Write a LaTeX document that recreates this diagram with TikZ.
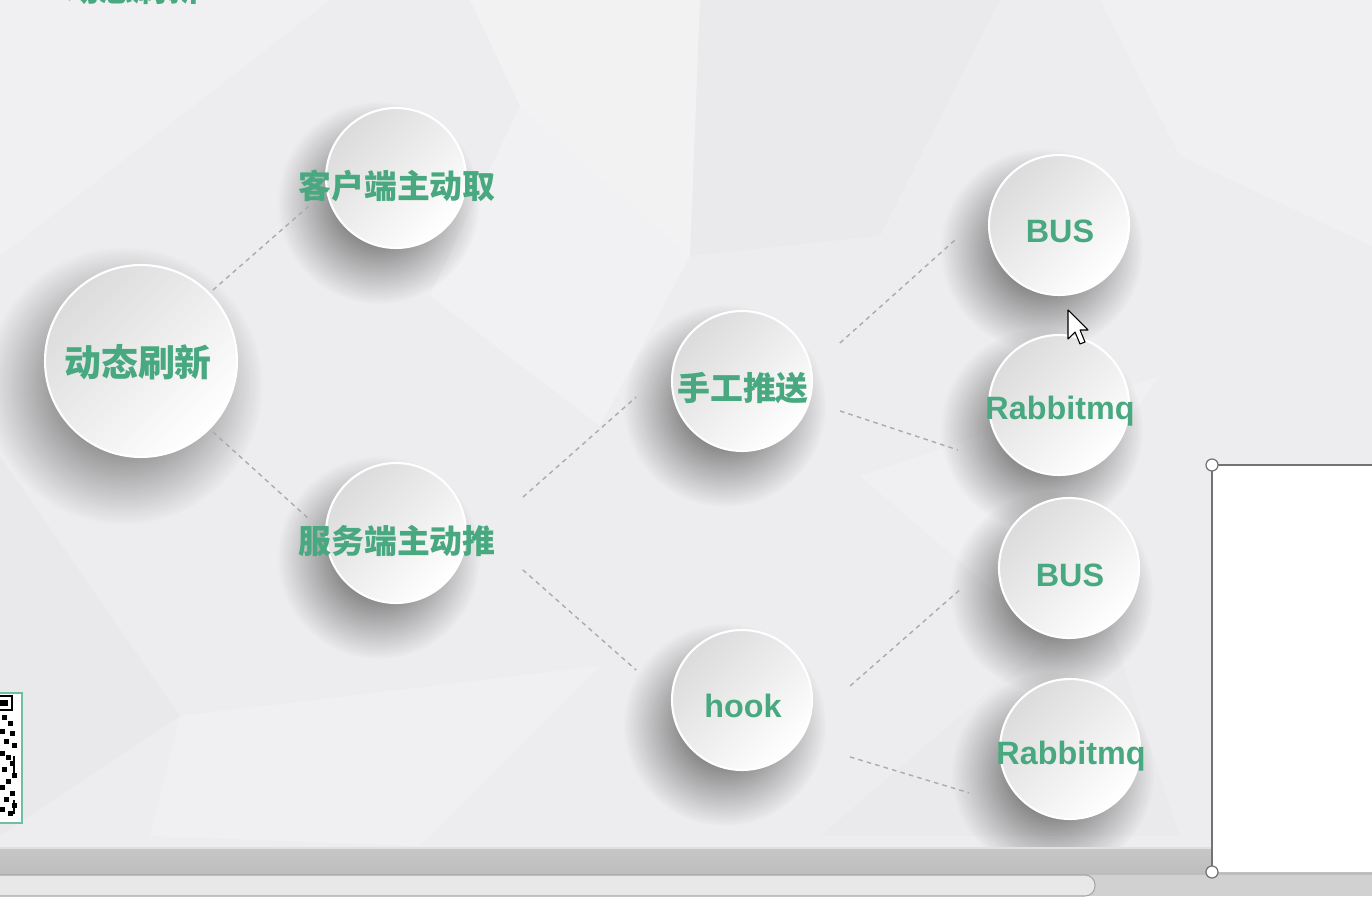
\documentclass[tikz,border=0pt]{standalone}
\usepackage{fontspec}
\setmainfont{Liberation Sans}
\newfontfamily\cjk{Noto Sans CJK SC}
\usetikzlibrary{shadows, fadings, calc}

\definecolor{leafgreen}{RGB}{72,168,128}
\definecolor{slidegray}{RGB}{237,237,239}
\definecolor{qrgreen}{RGB}{110,190,160}
\tikzfading[name=soft edge, inner color=transparent!0, outer color=transparent!100]

\begin{document}
\begin{tikzpicture}[x=0.02cm, y=0.02cm]
\tikzstyle{bubble} = [circle, inner sep=0pt, minimum size=2.8cm, draw=white, line width=1.2pt,
  top color=black!14, bottom color=white, shading angle=45,
  general shadow={fill=black, opacity=0.7, shadow scale=1.45, shadow xshift=-0.24cm, shadow yshift=-0.34cm, path fading=soft edge}]
\tikzstyle{caption} = [text=leafgreen, font=\bfseries\fontsize{18.4}{20}\selectfont, inner sep=0pt]
\tikzstyle{link} = [draw=black!33, line width=0.8pt, dash pattern=on 2.6pt off 2.4pt]
\tikzstyle{handle} = [circle, draw=black!55, fill=white, line width=0.7pt, inner sep=0pt, minimum size=0.24cm]

\useasboundingbox (0,0) rectangle (1372,896);

% slide background
\fill [slidegray] (0,0) rectangle (1372,896);
\fill [white, opacity=0.2] (0,896) -- (330,896) -- (0,640) -- cycle;
\fill [white, opacity=0.3] (470,896) -- (700,896) -- (690,640) -- (520,790) -- cycle;
\fill [white, opacity=0.25] (520,790) -- (690,640) -- (600,470) -- (430,600) -- cycle;
\fill [black, opacity=0.012] (700,896) -- (1000,896) -- (880,660) -- (690,640) -- cycle;
\fill [white, opacity=0.2] (1100,896) -- (1372,896) -- (1372,650) -- (1180,740) -- cycle;
\fill [black, opacity=0.015] (0,440) -- (180,180) -- (0,60) -- cycle;
\fill [white, opacity=0.2] (180,180) -- (600,230) -- (420,50) -- (150,60) -- cycle;
\fill [black, opacity=0.012] (820,60) -- (1100,300) -- (1180,60) -- cycle;
\fill [white, opacity=0.2] (860,420) -- (1160,520) -- (1000,300) -- cycle;

% cut-off title
\begin{scope}
\clip (0,0) rectangle (1372,896);
\node (title) [caption, anchor=base, font=\bfseries\fontsize{19}{20}\selectfont] at (133,894) {\cjk 动态刷新};
\end{scope}

% circles
\node (main) [bubble, minimum size=3.84cm] at (141,535) {};
\node (client) [bubble] at (396,718) {};
\node (server) [bubble] at (396,363) {};
\node (manual) [bubble] at (742,515) {};
\node (hook) [bubble] at (742,196) {};
\node (bus1) [bubble] at (1059,671) {};
\node (rabbit1) [bubble] at (1059,491) {};
\node (bus2) [bubble] at (1069,328) {};
\node (rabbit2) [bubble] at (1070,147) {};

% texts
\node (main-t) [caption, font=\bfseries\fontsize{21}{22}\selectfont] at (138,534) {\cjk 动态刷新};
\node (client-t) [caption, font=\bfseries\fontsize{18.7}{20}\selectfont] at (397,710) {\cjk 客户端主动取};
\node (server-t) [caption, font=\bfseries\fontsize{18.7}{20}\selectfont] at (397,355) {\cjk 服务端主动推};
\node (manual-t) [caption, font=\bfseries\fontsize{18.7}{20}\selectfont] at (743,508) {\cjk 手工推送};
\node (hook-t) [caption] at (743,190) {hook};
\node (bus1-t) [caption] at (1060,665) {BUS};
\node (rabbit1-t) [caption] at (1060,485) {Rabbitmq};
\node (bus2-t) [caption] at (1070,321) {BUS};
\node (rabbit2-t) [caption] at (1071,140) {Rabbitmq};

% dashed links
\draw [link] ($(main)+(44.6:101)$) -- ($(client)+(197.4:90)$);
\draw [link] ($(main)+(-44.6:101)$) -- ($(server)+(171.4:87)$);
\draw [link] ($(server)+(15.8:132)$) -- ($(manual)+(188.6:107)$);
\draw [link] ($(server)+(-16.2:132)$) -- ($(hook)+(164.2:110)$);
\draw [link] ($(manual)+(21.2:105)$) -- ($(bus1)+(188.2:105)$);
\draw [link] ($(manual)+(-17:102.5)$) -- ($(rabbit1)+(204:110.6)$);
\draw [link] ($(hook)+(7.4:109)$) -- ($(bus2)+(190.6:109)$);
\draw [link] ($(hook)+(-27.8:122)$) -- ($(rabbit2)+(203.5:110)$);

% qr code at the left edge
\filldraw [fill=white, draw=qrgreen, line width=0.8pt] (-10,73) rectangle (22,203);
\draw [black, line width=1.6pt] (-4,186) rectangle (12,200);
\fill [black] (0,190) rectangle (8,196);
\foreach \qx/\qy in {2/176, 8/170, 0/162, 10/160, 4/152, 12/148, 0/140, 6/136, 10/130, 2/124, 12/118, 6/112, 0/106, 10/100, 4/94, 12/88, 0/84, 8/80}
  \fill [black] (\qx,\qy) rectangle ++(5,5);
\draw [black, line width=0.9pt] (14,82) -- (14,96) (14,120) -- (14,140);

% bottom bars
\shade [top color=black!22, bottom color=black!26] (0,21) rectangle (1372,48);
\draw [black!12, line width=0.6pt] (0,48) -- (1372,48);
\fill [black!18] (0,0) rectangle (1372,21);
\filldraw [fill=black!9, draw=black!35, line width=0.6pt, rounded corners=0.2cm] (-20,0) rectangle (1095,21);

% selected white box
\fill [white] (1212,24) rectangle (1380,431);
\draw [black!55, line width=1.3pt] (1212,24) -- (1212,431) -- (1380,431);
\node (grip1) [handle] at (1212,431) {};
\node (grip2) [handle] at (1212,24) {};

% mouse pointer
\filldraw [fill=white, draw=black, line width=0.6pt, line join=round]
  (1068,586) -- (1068,557) -- (1075,564) -- (1080,552) -- (1085,554) -- (1080,566) -- (1088,566) -- cycle;
\end{tikzpicture}
\end{document}
